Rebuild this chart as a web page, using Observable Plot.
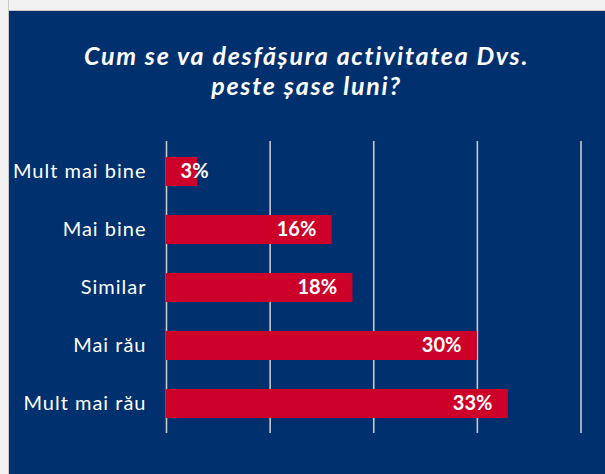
<!DOCTYPE html>
<html>
<head>
<meta charset="utf-8">
<script src="https://cdn.jsdelivr.net/npm/d3@7"></script>
<script src="https://cdn.jsdelivr.net/npm/@observablehq/plot@0.6"></script>
<style>
  html, body { margin: 0; padding: 0; background: #00306e; width: 605px; height: 474px; overflow: hidden; position: relative; }
  #topstrip { position: absolute; left: 0; top: 0; width: 605px; height: 11px; background: #f2f2f2; border-bottom: 1px solid #c9c9c9; box-sizing: border-box; }
  #leftstrip { position: absolute; left: 0; top: 0; width: 9px; height: 474px; background: #f2f2f2; border-right: 1px solid #c9c9c9; box-sizing: border-box; }
  #title { position: absolute; left: 8px; top: 40px; width: 597px; text-align: center; color: #ffffff;
           font-family: Lato, "Open Sans", sans-serif; font-weight: bold; font-style: italic; font-size: 25px; line-height: 30px; letter-spacing: 1.7px; }
  #chart { position: absolute; left: 8px; top: 121px; width: 597px; }
  #chart svg g[aria-label="y-axis tick label"] text { letter-spacing: 1px; }
</style>
</head>
<body>
<div id="topstrip"></div>
<div id="leftstrip"></div>
<div id="title">Cum se va desfășura activitatea Dvs.<br>peste șase luni?</div>
<div id="chart"></div>
<script>
const categories = ["Mult mai bine", "Mai bine", "Similar", "Mai rău", "Mult mai rău"];
const values = [3, 16, 18, 30, 33];
const labels = ["3%", "16%", "18%", "30%", "33%"];
const xTicks = [0, 10, 20, 30, 40];

const data = categories.map((c, i) => ({category: c, value: values[i], label: labels[i]}));

const chart = Plot.plot({
  width: 597,
  height: 353,
  marginLeft: 158,
  marginRight: 24.5,
  marginTop: 20,
  marginBottom: 41,
  style: {background: "transparent", color: "#ffffff", fontFamily: "Lato, 'Open Sans', sans-serif"},
  x: {domain: [0, 40], ticks: xTicks, axis: null},
  y: {domain: categories, paddingInner: 0.5, paddingOuter: 0.25, label: null},
  marks: [
    Plot.gridX(xTicks, {stroke: "#c9c9c9", strokeOpacity: 1, strokeWidth: 1.6}),
    Plot.barX(data, {y: "category", x: "value", fill: "#cc0029"}),
    Plot.text(data.filter(d => d.value >= 10), {y: "category", x: "value", text: "label", textAnchor: "end", dx: -16, fill: "#ffffff", fontWeight: "bold", fontSize: 20}),
    Plot.text(data.filter(d => d.value < 10), {y: "category", x: "value", text: "label", textAnchor: "middle", dx: -3, fill: "#ffffff", fontWeight: "bold", fontSize: 20}),
    Plot.axisY({tickSize: 0, tickPadding: 20, fontSize: 20, fill: "#ffffff", label: null})
  ]
});
document.getElementById("chart").appendChild(chart);
</script>
</body>
</html>
